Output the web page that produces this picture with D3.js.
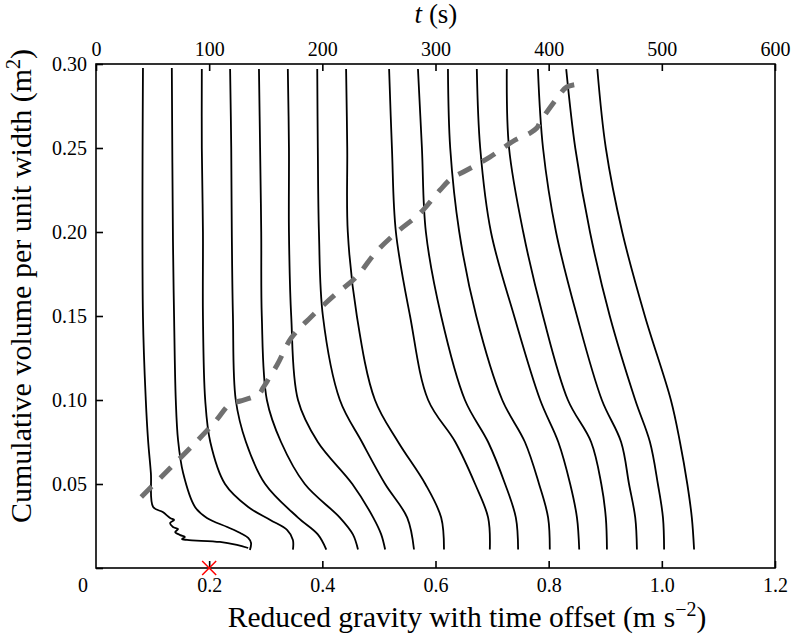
<!DOCTYPE html>
<html>
<head>
<meta charset="utf-8">
<script src="https://cdn.jsdelivr.net/npm/d3@7"></script>
<style>
    body { margin: 0; background: #fff; }
    svg text { font-family: "Liberation Serif", "DejaVu Serif", serif; fill: #000; }
</style>
</head>
<body>
<div id="chart"></div>
<script>
// profiles, [reduced gravity + offset (m s^-2), cumulative volume (m^2)]
const c1 = [[0.083, 0.2976], [0.083, 0.1494], [0.088, 0.100], [0.092, 0.0762], [0.097, 0.0565], [0.101, 0.0363],
    [0.118, 0.0333], [0.131, 0.0298], [0.138, 0.0286], [0.131, 0.0268], [0.136, 0.0244], [0.145, 0.0232],
    [0.140, 0.0214], [0.149, 0.0196], [0.157, 0.0185], [0.152, 0.0173], [0.161, 0.0167], [0.219, 0.0155],
    [0.249, 0.0137], [0.269, 0.0119]];
const c2 = [[0.134, 0.2976], [0.136, 0.1952], [0.138, 0.1494], [0.141, 0.100], [0.145, 0.0762], [0.154, 0.0565],
    [0.175, 0.0363], [0.196, 0.0298], [0.232, 0.0244], [0.255, 0.0208], [0.269, 0.0179], [0.274, 0.0149],
    [0.272, 0.0107]];
const c3 = [[0.187, 0.297], [0.187, 0.25], [0.189, 0.20], [0.189, 0.15], [0.193, 0.10], [0.202, 0.075],
    [0.228, 0.05], [0.269, 0.0363], [0.308, 0.0286], [0.338, 0.0226], [0.348, 0.0167], [0.348, 0.011]];
const c4 = [[0.237, 0.297], [0.239, 0.25], [0.240, 0.20], [0.242, 0.15], [0.247, 0.10], [0.265, 0.075],
    [0.299, 0.05], [0.357, 0.03], [0.392, 0.02], [0.407, 0.011]];
const c5 = [[0.288, 0.297], [0.290, 0.25], [0.292, 0.20], [0.293, 0.15], [0.302, 0.10], [0.327, 0.075],
    [0.369, 0.05], [0.431, 0.03], [0.454, 0.02], [0.463, 0.011]];
const c6 = [[0.339, 0.297], [0.341, 0.25], [0.341, 0.20], [0.345, 0.15], [0.357, 0.10], [0.392, 0.075],
    [0.453, 0.05], [0.490, 0.03], [0.504, 0.02], [0.511, 0.011]];
const c7 = [[0.391, 0.297], [0.392, 0.25], [0.394, 0.20], [0.401, 0.15], [0.431, 0.10], [0.470, 0.075],
    [0.511, 0.05], [0.550, 0.03], [0.562, 0.011]];
const c8 = [[0.442, 0.297], [0.444, 0.25], [0.445, 0.20], [0.461, 0.15], [0.493, 0.10], [0.534, 0.075],
    [0.582, 0.05], [0.610, 0.03], [0.615, 0.011]];
const c9 = [[0.518, 0.297], [0.523, 0.25], [0.530, 0.20], [0.555, 0.15], [0.587, 0.10], [0.635, 0.075],
    [0.670, 0.05], [0.693, 0.03], [0.696, 0.011]];
const c10 = [[0.569, 0.297], [0.576, 0.25], [0.583, 0.20], [0.610, 0.15], [0.652, 0.10], [0.693, 0.075],
    [0.723, 0.05], [0.742, 0.03], [0.746, 0.011]];
const c11 = [[0.622, 0.297], [0.626, 0.25], [0.642, 0.20], [0.672, 0.15], [0.718, 0.10], [0.758, 0.075],
    [0.783, 0.05], [0.799, 0.03], [0.802, 0.011]];
const c12 = [[0.673, 0.297], [0.679, 0.25], [0.698, 0.20], [0.739, 0.15], [0.785, 0.10], [0.817, 0.075],
    [0.838, 0.05], [0.850, 0.03], [0.854, 0.011]];
const c13 = [[0.726, 0.297], [0.730, 0.25], [0.755, 0.20], [0.790, 0.15], [0.834, 0.10], [0.875, 0.075],
    [0.893, 0.05], [0.901, 0.03], [0.903, 0.011]];
const c14 = [[0.781, 0.297], [0.790, 0.25], [0.813, 0.20], [0.850, 0.15], [0.894, 0.10], [0.928, 0.075],
    [0.942, 0.05], [0.953, 0.03], [0.956, 0.011]];
const c15 = [[0.831, 0.297], [0.847, 0.25], [0.873, 0.20], [0.908, 0.15], [0.953, 0.10], [0.979, 0.075],
    [0.993, 0.05], [1.002, 0.03], [1.004, 0.011]];
const c16 = [[0.886, 0.297], [0.901, 0.25], [0.930, 0.20], [0.970, 0.15], [1.016, 0.10], [1.032, 0.075],
    [1.045, 0.05], [1.053, 0.03], [1.057, 0.011]];
const curves = [c1, c2, c3, c4, c5, c6, c7, c8, c9, c10, c11, c12, c13, c14, c15, c16];

// front position (grey dashed)
const front = [[0.080, 0.0423], [0.175, 0.0744], [0.210, 0.0869], [0.237, 0.0976], [0.255, 0.0994],
    [0.278, 0.1018], [0.290, 0.1042], [0.295, 0.1071], [0.320, 0.1208], [0.345, 0.1369], [0.380, 0.1494],
    [0.422, 0.1625], [0.460, 0.1732], [0.495, 0.1881], [0.532, 0.2000], [0.573, 0.2113], [0.608, 0.2250],
    [0.629, 0.2321], [0.649, 0.2357], [0.696, 0.2446], [0.741, 0.2548], [0.767, 0.2589], [0.779, 0.2619],
    [0.785, 0.2655], [0.815, 0.2798], [0.832, 0.2863], [0.855, 0.2881]];

const marker = [0.2, 0];

const xTicks = [0.2, 0.4, 0.6, 0.8, 1.0, 1.2];
const xTickLabels = ['0.2', '0.4', '0.6', '0.8', '1.0', '1.2'];
const tTicks = [0, 100, 200, 300, 400, 500, 600];
const yTicks = [0, 0.05, 0.10, 0.15, 0.20, 0.25, 0.30];
const yTickLabels = ['', '0.05', '0.10', '0.15', '0.20', '0.25', '0.30'];

const width = 791, height = 636;
const margin = {top: 64, right: 16, bottom: 68, left: 96};
const w = width - margin.left - margin.right;
const h = height - margin.top - margin.bottom;

const svg = d3.select('#chart')
    .append('svg')
    .attr('width', width)
    .attr('height', height);

const g = svg.append('g')
    .attr('transform', 'translate(' + margin.left + ',' + margin.top + ')');

const x = d3.scaleLinear().domain([0, 1.2]).range([0, w]);
const t = d3.scaleLinear().domain([0, 600]).range([0, w]);
const y = d3.scaleLinear().domain([0, 0.30]).range([h, 0]);

// axes, ticks pointing inward
const bottomAxis = d3.axisBottom(x)
    .tickValues(xTicks)
    .tickSizeInner(-7).tickSizeOuter(0)
    .tickPadding(10)
    .tickFormat((d, i) => xTickLabels[i]);
const topAxis = d3.axisTop(t)
    .tickValues(tTicks)
    .tickSizeInner(-7).tickSizeOuter(0)
    .tickPadding(8);
const leftAxis = d3.axisLeft(y)
    .tickValues(yTicks)
    .tickSizeInner(-7).tickSizeOuter(0)
    .tickPadding(9)
    .tickFormat((d, i) => yTickLabels[i]);

const gx = g.append('g').attr('transform', 'translate(0,' + h + ')').call(bottomAxis);
const gt = g.append('g').call(topAxis);
const gy = g.append('g').call(leftAxis);

[gx, gt, gy].forEach(a => {
    a.select('.domain').remove();
    a.selectAll('line').attr('stroke', '#000').attr('stroke-width', 1.6);
    a.selectAll('text').attr('font-size', 20).attr('font-family', '"Liberation Serif", serif').attr('fill', '#000');
});

// origin label
g.append('text')
    .attr('x', -13)
    .attr('y', h + 10)
    .attr('dy', '0.71em')
    .attr('text-anchor', 'middle')
    .attr('font-size', 20)
    .text('0');

// frame
g.append('rect')
    .attr('width', w)
    .attr('height', h)
    .attr('fill', 'none')
    .attr('stroke', '#000')
    .attr('stroke-width', 1.6);

const line = d3.line()
    .x(d => x(d[0]))
    .y(d => y(d[1]))
    .curve(d3.curveCatmullRom.alpha(0.5));

g.selectAll('.profile')
    .data(curves)
    .enter()
    .append('path')
    .attr('class', 'profile')
    .attr('d', line)
    .attr('fill', 'none')
    .attr('stroke', '#000')
    .attr('stroke-width', 1.8);

g.append('path')
    .datum(front)
    .attr('d', line)
    .attr('fill', 'none')
    .attr('stroke', '#707070')
    .attr('stroke-width', 5)
    .attr('stroke-dasharray', '15,12');

// red cross on the axis
const mx = x(marker[0]), my = y(marker[1]);
g.append('path')
    .attr('d', 'M' + (mx - 7) + ',' + (my - 7) + 'L' + (mx + 7) + ',' + (my + 7) +
        'M' + (mx - 7) + ',' + (my + 7) + 'L' + (mx + 7) + ',' + (my - 7))
    .attr('stroke', '#ff0000')
    .attr('stroke-width', 1.5)
    .attr('fill', 'none');

// axis titles
svg.append('text')
    .attr('x', 467)
    .attr('y', 627)
    .attr('text-anchor', 'middle')
    .attr('font-size', 29.5)
    .call(s => {
        s.append('tspan').text('Reduced gravity with time offset (m');
        s.append('tspan').attr('dx', 8).text('s');
        s.append('tspan').attr('dy', -11).attr('font-size', 20).text('−2');
        s.append('tspan').attr('dy', 11).text(')');
    });

svg.append('text')
    .attr('transform', 'translate(31,286) rotate(-90)')
    .attr('text-anchor', 'middle')
    .attr('font-size', 30)
    .call(s => {
        s.append('tspan').text('Cumulative volume per unit width (m');
        s.append('tspan').attr('dy', -11).attr('font-size', 20).text('2');
        s.append('tspan').attr('dy', 11).text(')');
    });

svg.append('text')
    .attr('x', 436)
    .attr('y', 23)
    .attr('text-anchor', 'middle')
    .attr('font-size', 27)
    .call(s => {
        s.append('tspan').attr('font-style', 'italic').text('t');
        s.append('tspan').text(' (s)');
    });
</script>
</body>
</html>
